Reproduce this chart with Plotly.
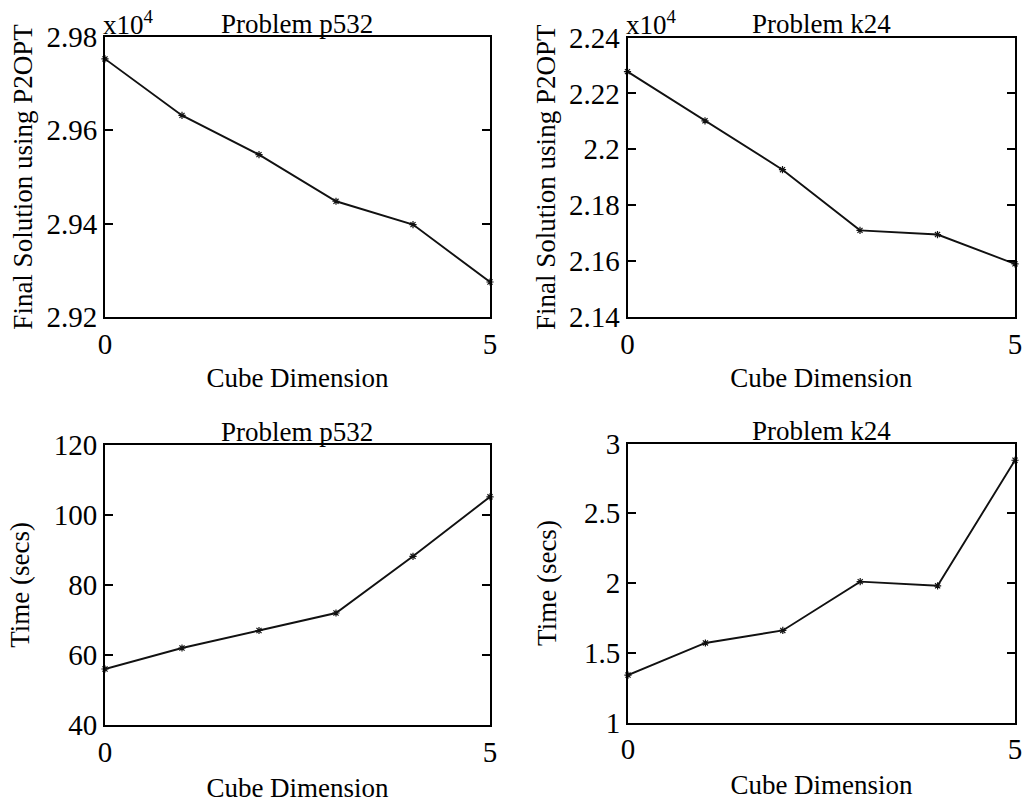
import plotly.graph_objects as go

# Cube dimensions on the x axis
cube_dim = [0, 1, 2, 3, 4, 5]

# Final solution quality (units of x10^4)
p532_solution = [2.9753, 2.9632, 2.9548, 2.9448, 2.9398, 2.9275]
k24_solution = [2.2278, 2.2102, 2.1927, 2.1710, 2.1695, 2.1590]

# Run time in seconds
p532_time = [56.0, 62.0, 67.0, 72.0, 88.2, 105.2]
k24_time = [1.34, 1.57, 1.66, 2.01, 1.98, 2.88]

panels = [
    dict(y=p532_solution, title="Problem p532", ytitle="Final Solution using P2OPT",
         yrange=[2.92, 2.98], ytickvals=[2.92, 2.94, 2.96, 2.98],
         yticktext=["2.92", "2.94", "2.96", "2.98"], mult=True, xstand=9, ystand=6),
    dict(y=k24_solution, title="Problem k24", ytitle="Final Solution using P2OPT",
         yrange=[2.14, 2.24], ytickvals=[2.14, 2.16, 2.18, 2.20, 2.22, 2.24],
         yticktext=["2.14", "2.16", "2.18", "2.2", "2.22", "2.24"], mult=True, xstand=9, ystand=6),
    dict(y=p532_time, title="Problem p532", ytitle="Time (secs)",
         yrange=[40, 120], ytickvals=[40, 60, 80, 100, 120],
         yticktext=["40", "60", "80", "100", "120"], mult=False, xstand=17, ystand=16),
    dict(y=k24_time, title="Problem k24", ytitle="Time (secs)",
         yrange=[1, 3], ytickvals=[1, 1.5, 2, 2.5, 3],
         yticktext=["1", "1.5", "2", "2.5", "3"], mult=False, xstand=11, ystand=20),
]

W, H = 1026, 803
# plot-area boxes in pixels: left, right, top, bottom
boxes = [
    (105, 490, 37, 317),
    (627.5, 1015, 37.5, 317),
    (105, 490, 445, 725),
    (628, 1015, 443.5, 722.5),
]

FONT = "Liberation Serif, Times New Roman, serif"
FS_TITLE = 27
FS_TICK = 29

fig = go.Figure()
layout = dict(
    width=W, height=H,
    margin=dict(l=0, r=0, t=0, b=0, autoexpand=False),
    paper_bgcolor="white", plot_bgcolor="white",
    showlegend=False,
    font=dict(family=FONT, size=FS_TITLE, color="black"),
)
annotations = []

for i, (p, (l, r, t, b)) in enumerate(zip(panels, boxes)):
    n = "" if i == 0 else str(i + 1)
    xa, ya = "x" + n, "y" + n
    fig.add_trace(go.Scatter(
        x=cube_dim, y=p["y"], xaxis=xa, yaxis=ya, mode="lines+markers",
        line=dict(color="#111111", width=1.9),
        marker=dict(symbol="asterisk-open", size=6,
                    line=dict(color="#111111", width=1.2)),
        cliponaxis=False,
    ))
    x0, x1 = l / W, r / W
    y0, y1 = 1 - b / H, 1 - t / H
    layout["xaxis" + n] = dict(
        domain=[x0, x1], range=[0, 5], anchor=ya, automargin=False,
        tickvals=[0, 5], ticktext=["0", "5"], ticks="",
        showline=True, linecolor="black", linewidth=2, mirror=True,
        showgrid=False, zeroline=False,
        tickfont=dict(family=FONT, size=FS_TICK, color="black"),
        title=dict(text="Cube Dimension", standoff=p["xstand"],
                   font=dict(family=FONT, size=FS_TITLE, color="black")),
    )
    layout["yaxis" + n] = dict(
        domain=[y0, y1], range=p["yrange"], anchor=xa, automargin=False,
        tickvals=p["ytickvals"], ticktext=p["yticktext"],
        ticks="inside", ticklen=8, tickwidth=1.5, tickcolor="black",
        showline=True, linecolor="black", linewidth=2, mirror="ticks",
        showgrid=False, zeroline=False,
        tickfont=dict(family=FONT, size=FS_TICK, color="black"),
        title=dict(text=p["ytitle"], standoff=p["ystand"],
                   font=dict(family=FONT, size=FS_TITLE, color="black")),
    )
    annotations.append(dict(
        text=p["title"], x=(x0 + x1) / 2, y=y1, xref="paper", yref="paper",
        xanchor="center", yanchor="bottom", yshift=-4, showarrow=False,
        font=dict(family=FONT, size=FS_TITLE, color="black"),
    ))
    if p["mult"]:
        annotations.append(dict(
            text="x10<sup>4</sup>", x=x0, y=y1, xref="paper", yref="paper",
            xanchor="left", yanchor="bottom", yshift=-5, xshift=-4, showarrow=False,
            font=dict(family=FONT, size=FS_TITLE, color="black"),
        ))

layout["annotations"] = annotations
fig.update_layout(**layout)
fig.write_html("out.html")
